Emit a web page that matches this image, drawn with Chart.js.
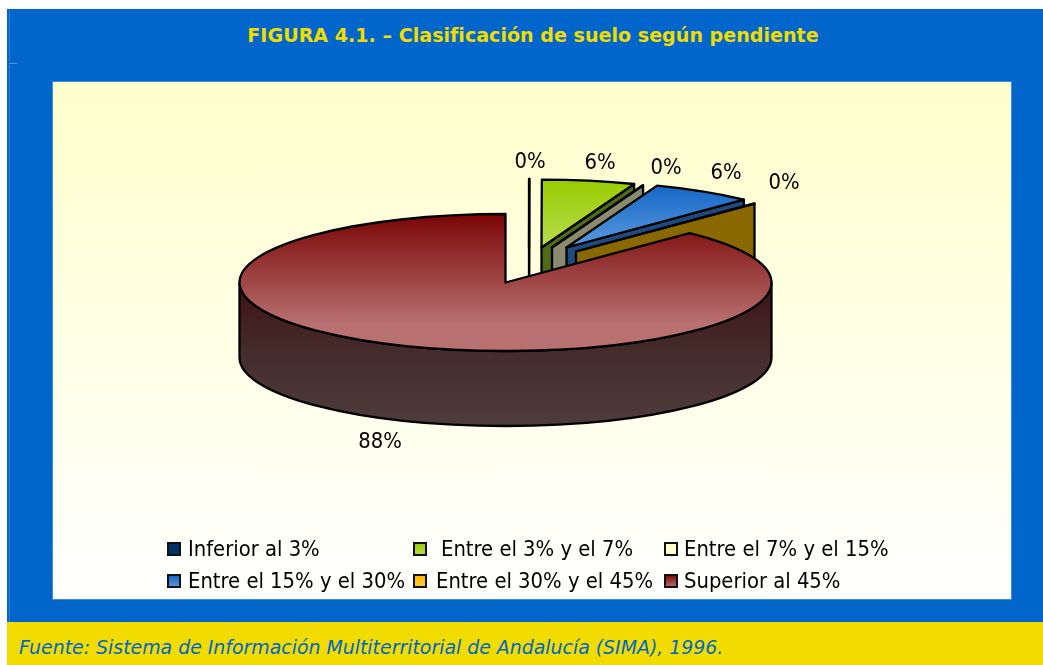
<!DOCTYPE html>
<html lang="es">
<head>
<meta charset="utf-8">
<title>FIGURA 4.1</title>
<script src="https://cdn.jsdelivr.net/npm/chart.js@4"></script>
<style>
html,body{margin:0;padding:0;width:1043px;height:665px;overflow:hidden;background:#fff}
#frame{position:absolute;left:7px;top:9px;width:1036px;height:613px;background:#0066cc}
#lineA{position:absolute;left:9px;top:11px;width:1px;height:50px;background:#2f80d8}
#lineB{position:absolute;left:9px;top:63px;width:8px;height:1px;background:#4f95e0}
#lineC{position:absolute;left:9px;top:65px;width:1px;height:557px;background:#2f80d8}
#panel{position:absolute;left:52px;top:81px;width:958px;height:517px;border:1px solid #3f8bdc;background:linear-gradient(#ffffcc 0%,#ffffff 100%)}
#chart{position:absolute;left:53px;top:82px}
#title{position:absolute;left:7px;width:1052px;top:24px;text-align:center;font:bold 19.1px "DejaVu Sans",sans-serif;color:#f2dc00;white-space:nowrap}
#foot{position:absolute;left:7px;top:622px;width:1036px;height:43px;background:#f2dc00}
#source{position:absolute;left:19px;top:636px;font:italic 18.9px "DejaVu Sans",sans-serif;color:#0066cc;white-space:nowrap}
</style>
</head>
<body>
<div id="frame"></div><div id="lineA"></div><div id="lineB"></div><div id="lineC"></div>
<div id="panel"></div>
<canvas id="chart" width="958" height="517"></canvas>
<div id="title">FIGURA 4.1. – Clasificación de suelo según pendiente</div>
<div id="foot"></div>
<div id="source">Fuente: Sistema de Información Multiterritorial de Andalucía (SIMA), 1996.</div>
<script>
const categories = ['Inferior al 3%','Entre el 3% y el 7%','Entre el 7% y el 15%','Entre el 15% y el 30%','Entre el 30% y el 45%','Superior al 45%'];
const shares = [0.02, 5.7, 0.02, 6.4, 0.02, 87.84];
const faceTop = ['#003366','#99cc00','#ffffcc','#0f63c4','#ffb800','#7a0505'];
const faceBottom = ['#003366','#b8dc50','#ffffcc','#5b9ade','#ffcc33','#b87070'];
const wallColors = ['#1f3a5c','#4f6b1a','#8a8a6e','#1f4a80','#8a6800','#452a2a'];

// pseudo-3D styling: how far each slice is pulled out, its size, flattening, and wall height
const explode = [[23.5,-35],[36,-35],[46.5,-35],[61,-35],[70.5,-31],[0,0]];
const sliceScale = [1,0.99,0.97,0.965,0.97,1];
const stretchX = 266/200.5, stretchY = 68.5/200.5, depth = 75;
const FONT = '21.8px "DejaVu Sans Condensed","DejaVu Sans",sans-serif';
const labelAt = [[477,80],[547,81],[613,86],[673,91],[731,101],[327,360]];
const legendAt = [[115,467,135],[361,467,388],[612,467,631],[115,499,135],[361,499,383],[612,499,631]];

const fake3d = {
  id:'fake3d',
  beforeDatasetsDraw(chart){
    const ctx = chart.ctx, meta = chart.getDatasetMeta(0);
    meta.data.forEach((el,i)=>{
      const p = el.getProps(['x','y','startAngle','endAngle','outerRadius'],true);
      const ax = p.x+explode[i][0], ay = p.y+explode[i][1];
      const sX = stretchX*sliceScale[i], sY = stretchY*sliceScale[i];
      const RX = p.outerRadius*sX, RY = p.outerRadius*sY;
      ctx.save();
      ctx.lineWidth = 2.3; ctx.strokeStyle = '#000'; ctx.lineJoin = 'round';
      if (i < meta.data.length-1) {
        const ex = ax+RX*Math.cos(p.endAngle), ey = ay+RY*Math.sin(p.endAngle);
        ctx.beginPath();
        ctx.moveTo(ax,ay); ctx.lineTo(ex,ey); ctx.lineTo(ex,ey+depth); ctx.lineTo(ax,ay+depth); ctx.closePath();
        ctx.fillStyle = wallColors[i]; ctx.fill(); ctx.stroke();
      } else {
        const g = ctx.createLinearGradient(0,ay,0,ay+RY+depth);
        g.addColorStop(0,'#3e1212'); g.addColorStop(0.45,'#452a2a'); g.addColorStop(1,'#4e3c3c');
        ctx.beginPath();
        ctx.ellipse(ax,ay,RX,RY,0,0,Math.PI);
        ctx.lineTo(ax-RX,ay+depth);
        ctx.ellipse(ax,ay+depth,RX,RY,0,Math.PI,0,true);
        ctx.closePath();
        ctx.fillStyle = g; ctx.fill(); ctx.stroke();
      }
      ctx.save();
      ctx.translate(ax,ay); ctx.scale(sX,sY); ctx.translate(-p.x,-p.y);
      el.draw(ctx);
      ctx.restore();
      ctx.beginPath();
      ctx.moveTo(ax,ay);
      ctx.ellipse(ax,ay,RX,RY,0,p.startAngle,p.endAngle);
      ctx.closePath();
      ctx.stroke();
      ctx.restore();
    });
    return false;
  },
  afterDraw(chart){
    const ctx = chart.ctx;
    ctx.save();
    ctx.font = FONT; ctx.fillStyle = '#000'; ctx.textBaseline = 'middle';
    ctx.textAlign = 'center';
    shares.forEach((v,i)=>ctx.fillText(Math.round(v)+'%',labelAt[i][0],labelAt[i][1]));
    ctx.textAlign = 'left';
    categories.forEach((c,i)=>{
      const [mx,my,tx] = legendAt[i];
      const g = ctx.createLinearGradient(0,my-6,0,my+6);
      g.addColorStop(0,faceTop[i]); g.addColorStop(1,faceBottom[i]);
      ctx.fillStyle = g; ctx.fillRect(mx,my-6,12,12);
      ctx.lineWidth = 2; ctx.strokeStyle = '#111'; ctx.strokeRect(mx,my-6,12,12);
      ctx.fillStyle = '#000';
      ctx.fillText(c,tx,my+1);
    });
    ctx.restore();
  }
};

function sliceGradient(c){
  const i = c.dataIndex, a = c.chart.chartArea;
  if (!a) return faceTop[i];
  const cy = (a.top+a.bottom)/2, r = Math.min(a.right-a.left,a.bottom-a.top)/2;
  const g = c.chart.ctx.createLinearGradient(0,cy-r,0,i===5?cy+r:cy);
  g.addColorStop(0,faceTop[i]);
  if (i===5) g.addColorStop(0.8,faceBottom[i]);
  g.addColorStop(1,faceBottom[i]);
  return g;
}

new Chart(document.getElementById('chart'),{
  type:'pie',
  data:{labels:categories,datasets:[{data:shares,backgroundColor:sliceGradient,borderWidth:0,hoverOffset:0}]},
  options:{
    responsive:false,animation:false,
    layout:{padding:{left:0,top:0,right:53,bottom:116}},
    plugins:{legend:{display:false},tooltip:{enabled:false},title:{display:false}}
  },
  plugins:[fake3d]
});
</script>
</body>
</html>
